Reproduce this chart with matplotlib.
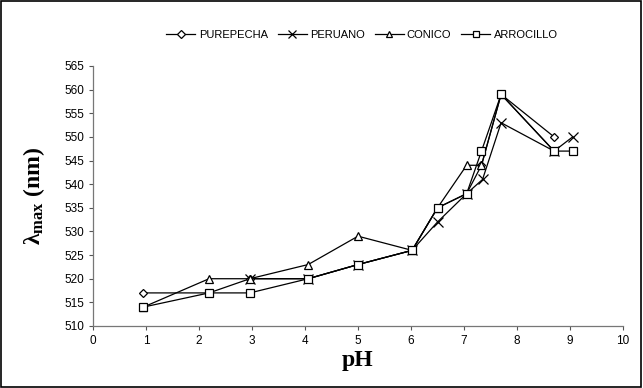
import matplotlib
matplotlib.use('Agg')
import matplotlib.pyplot as plt
from matplotlib.patches import Rectangle

plt.rcParams['font.family'] = ['Liberation Sans', 'DejaVu Sans']
plt.rcParams['mathtext.fontset'] = 'custom'
plt.rcParams['mathtext.rm'] = 'Liberation Serif:bold'
plt.rcParams['mathtext.it'] = 'Liberation Serif:bold'
plt.rcParams['mathtext.bf'] = 'Liberation Serif:bold'

# values
purepecha_ph = [0.95, 2.19, 2.96, 4.06, 5.0, 6.02, 6.5, 7.05, 7.33, 7.7, 8.7]
purepecha_nm = [517, 517, 520, 520, 523, 526, 535, 538, 544, 559, 550]

peruano_ph = [2.96, 4.06, 5.0, 6.02, 6.5, 7.05, 7.35, 7.7, 8.7, 9.05]
peruano_nm = [520, 520, 523, 526, 532, 538, 541, 553, 547, 550]

conico_ph = [0.95, 2.19, 2.96, 4.06, 5.0, 6.02, 6.5, 7.05, 7.33, 7.7, 8.7]
conico_nm = [514, 520, 520, 523, 529, 526, 535, 544, 544, 559, 547]

arrocillo_ph = [0.95, 2.19, 2.96, 4.06, 5.0, 6.02, 6.5, 7.05, 7.33, 7.7, 8.7, 9.05]
arrocillo_nm = [514, 517, 517, 520, 523, 526, 535, 538, 547, 559, 547, 547]

series = [
    ('PUREPECHA', purepecha_ph, purepecha_nm, 'D', 4.5),
    ('PERUANO', peruano_ph, peruano_nm, 'x', 6.5),
    ('CONICO', conico_ph, conico_nm, '^', 5.5),
    ('ARROCILLO', arrocillo_ph, arrocillo_nm, 's', 5.8),
]

fig = plt.figure(figsize=(6.43, 3.88), dpi=100)
ax = fig.add_axes([93 / 643, 1 - 326 / 388, 530 / 643, 260 / 388])

for label, xs, ys, mk, ms in series:
    ax.plot(xs, ys, color='black', linewidth=0.9, marker=mk, markersize=ms,
            markerfacecolor='white', markeredgecolor='black',
            markeredgewidth=0.9, label=label)

ax.set_xlim(0, 10)
ax.set_ylim(510, 565)
ax.set_xticks(range(0, 11))
ax.set_yticks(range(510, 566, 5))
ax.tick_params(direction='out', length=3, width=0.8, labelsize=8.5,
               color='#555555')
for side in ('top', 'right'):
    ax.spines[side].set_visible(False)
for side in ('left', 'bottom'):
    ax.spines[side].set_color('#777777')
    ax.spines[side].set_linewidth(0.9)

ax.set_xlabel('pH', fontsize=17, fontweight='bold',
              family='Liberation Serif', labelpad=2)
ax.set_ylabel(r'$\lambda_{\rm max}$ (nm)', fontsize=17, fontweight='bold',
              family='Liberation Serif', labelpad=12)

fig.legend(loc='center', bbox_to_anchor=(362 / 643, 1 - 35 / 388), ncol=4,
           frameon=False, fontsize=8, handlelength=2.6, columnspacing=0.9,
           handletextpad=0.3, markerscale=0.8)

fig.patches.append(Rectangle((0.002, 0.003), 0.995, 0.994,
                             transform=fig.transFigure, fill=False,
                             edgecolor='black', linewidth=1.2))

fig.savefig('out.png', dpi=100)
